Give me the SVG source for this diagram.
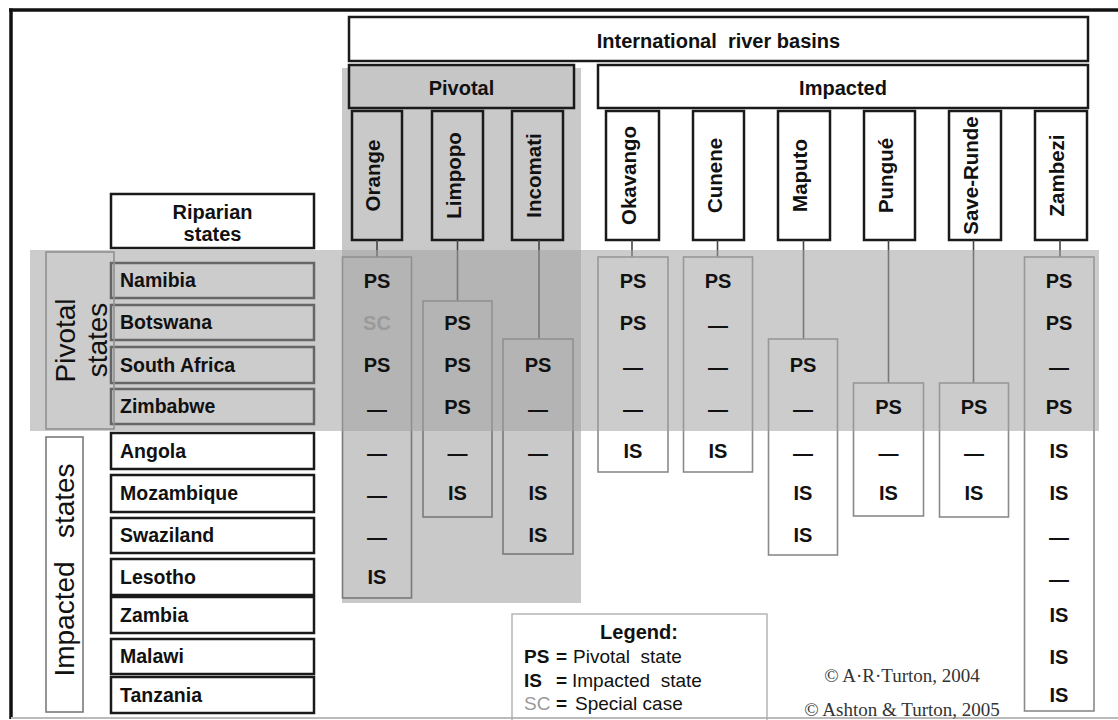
<svg xmlns="http://www.w3.org/2000/svg" width="1118" height="720" viewBox="0 0 1118 720">
  <style>
    .hdr { fill: #ffffff; stroke: #1a1a1a; stroke-width: 2.5; }
    .hdrg { fill: #c6c6c6; stroke: #1a1a1a; stroke-width: 2.5; }
    .riv { fill: #ffffff; stroke: #1a1a1a; stroke-width: 2.5; }
    .rivg { fill: #c9c9c9; stroke: #1a1a1a; stroke-width: 2.5; }
    .cty { fill: #ffffff; stroke: #1a1a1a; stroke-width: 2.5; }
    .ctyp { fill: none; stroke: #1a1a1a; stroke-width: 2.5; }
    .cellp { fill: #c9c9c9; stroke: #7a7a7a; stroke-width: 1.6; }
    .celli { fill: #ffffff; stroke: #8a8a8a; stroke-width: 1.6; }
    .lbl { fill: none; stroke: #7a7a7a; stroke-width: 1.6; }
    .lbli { fill: #ffffff; stroke: #7a7a7a; stroke-width: 1.6; }
    .conn line { stroke: #444444; stroke-width: 1.6; }
    text { font-family: "Liberation Sans", Arial, sans-serif; fill: #111111; }
    .h { font-size: 20px; font-weight: bold; text-anchor: middle; }
    .rv { font-size: 20.5px; font-weight: bold; text-anchor: middle; }
    .cn { font-size: 19.5px; font-weight: bold; }
    .c { font-size: 20px; font-weight: bold; text-anchor: middle; }
    .sc { fill: #9a9a9a; }
    .big { font-size: 28px; text-anchor: middle; }
    .lg { font-size: 19px; }
    .cp { font-family: "Liberation Serif", "Times New Roman", serif; font-size: 19px; fill: #333333; text-anchor: middle; }
  </style>

  <!-- outer frame -->
  <g id="frame">
    <line x1="9" y1="10" x2="1118" y2="10" stroke="#111111" stroke-width="3.5"/>
    <line x1="11" y1="8.5" x2="11" y2="719" stroke="#111111" stroke-width="3.5"/>
    <line x1="11" y1="718" x2="1118" y2="718" stroke="#bbbbbb" stroke-width="2"/>
  </g>

  <!-- shaded column behind the pivotal basins -->
  <rect id="pivotal-column" x="342" y="68" width="239" height="535" fill="#c9c9c9"/>

  <!-- header boxes -->
  <g id="international">
    <rect class="hdr" x="349" y="17" width="739" height="44"/>
  </g>
  <g id="pivotal">
    <rect class="hdrg" x="349" y="65" width="225" height="43"/>
  </g>
  <g id="impacted">
    <rect class="hdr" x="598" y="65" width="490" height="43"/>
  </g>
  <g id="riparian">
    <rect class="hdr" x="111" y="194" width="203" height="54"/>
  </g>

  <!-- basin boxes -->
  <g id="river-orange"><rect class="rivg" x="352" y="111" width="50" height="129"/></g>
  <g id="river-limpopo"><rect class="rivg" x="432" y="111" width="51" height="129"/></g>
  <g id="river-incomati"><rect class="rivg" x="512" y="111" width="51" height="129"/></g>
  <g id="river-okavango"><rect class="riv" x="606" y="111" width="53" height="129"/></g>
  <g id="river-cunene"><rect class="riv" x="693" y="111" width="51" height="129"/></g>
  <g id="river-maputo"><rect class="riv" x="778" y="111" width="52" height="129"/></g>
  <g id="river-pungue"><rect class="riv" x="864" y="111" width="51" height="129"/></g>
  <g id="river-saverunde"><rect class="riv" x="949" y="111" width="52" height="129"/></g>
  <g id="river-zambezi"><rect class="riv" x="1035" y="111" width="52" height="129"/></g>

  <!-- connectors from basins to their state columns -->
  <g id="connectors" class="conn">
    <line x1="377" y1="240" x2="377" y2="257"/>
    <line x1="457.5" y1="240" x2="457.5" y2="301"/>
    <line x1="539" y1="240" x2="539" y2="339"/>
    <line x1="632" y1="240" x2="632" y2="257"/>
    <line x1="717.5" y1="240" x2="717.5" y2="257"/>
    <line x1="803.5" y1="240" x2="803.5" y2="339"/>
    <line x1="888.5" y1="240" x2="888.5" y2="383"/>
    <line x1="973.5" y1="240" x2="973.5" y2="383"/>
    <line x1="1060" y1="240" x2="1060" y2="257"/>
  </g>

  <!-- state columns per basin -->
  <g id="col-orange"><rect class="cellp" x="342.5" y="257" width="69" height="341"/></g>
  <g id="col-limpopo"><rect class="cellp" x="423" y="301" width="69" height="216"/></g>
  <g id="col-incomati"><rect class="cellp" x="503" y="339" width="70" height="215"/></g>
  <g id="col-okavango"><rect class="celli" x="598" y="257" width="70" height="215"/></g>
  <g id="col-cunene"><rect class="celli" x="683.5" y="257" width="69" height="215"/></g>
  <g id="col-maputo"><rect class="celli" x="768.5" y="339" width="69" height="216"/></g>
  <g id="col-pungue"><rect class="celli" x="853.5" y="383" width="70" height="133"/></g>
  <g id="col-saverunde"><rect class="celli" x="939.5" y="383" width="69" height="134"/></g>
  <g id="col-zambezi"><rect class="celli" x="1024.5" y="257" width="69.5" height="454"/></g>

  <!-- riparian state boxes -->
  <g id="state-namibia"><rect class="ctyp" x="111" y="263" width="203" height="35"/></g>
  <g id="state-botswana"><rect class="ctyp" x="111" y="305" width="203" height="35"/></g>
  <g id="state-southafrica"><rect class="ctyp" x="111" y="347" width="203" height="36"/></g>
  <g id="state-zimbabwe"><rect class="ctyp" x="111" y="389" width="203" height="35"/></g>
  <g id="state-angola"><rect class="cty" x="111" y="433" width="203" height="36"/></g>
  <g id="state-mozambique"><rect class="cty" x="111" y="475" width="203" height="37"/></g>
  <g id="state-swaziland"><rect class="cty" x="111" y="518" width="203" height="35"/></g>
  <g id="state-lesotho"><rect class="cty" x="111" y="559" width="203" height="36"/></g>
  <g id="state-zambia"><rect class="cty" x="111" y="597" width="203" height="36"/></g>
  <g id="state-malawi"><rect class="cty" x="111" y="639" width="203" height="35"/></g>
  <g id="state-tanzania"><rect class="cty" x="111" y="677" width="203" height="36"/></g>

  <!-- group labels on the left -->
  <g id="pivotal-states"><rect class="lbl" x="46" y="252" width="68" height="177"/></g>
  <g id="impacted-states"><rect class="lbli" x="46" y="437" width="37" height="275"/></g>

  <!-- translucent band across the pivotal-state rows -->
  <rect id="pivotal-band" x="30" y="250" width="1069" height="181" fill="#a3a3a3" fill-opacity="0.556"/>

  <!-- legend -->
  <g id="legend">
    <rect x="512" y="614" width="255" height="110" fill="none" stroke="#aaaaaa" stroke-width="1.3"/>
    <text class="h" x="639" y="639" font-size="19">Legend:</text>
    <text class="lg" x="524" y="663"><tspan font-weight="bold">PS</tspan></text>
    <text class="lg" x="556" y="663" font-weight="bold">=</text>
    <text class="lg" x="573" y="663" xml:space="preserve">Pivotal  state</text>
    <text class="lg" x="524" y="687"><tspan font-weight="bold">IS</tspan></text>
    <text class="lg" x="556" y="687" font-weight="bold">=</text>
    <text class="lg" x="572" y="687" xml:space="preserve">Impacted  state</text>
    <text class="lg sc" x="524" y="710">SC</text>
    <text class="lg" x="556" y="710" font-weight="bold">=</text>
    <text class="lg" x="575" y="710">Special case</text>
  </g>

  <!-- copyright notes -->
  <g id="credits">
    <text class="cp" x="902" y="682">© A·R·Turton, 2004</text>
    <text class="cp" x="902" y="716">© Ashton &amp; Turton, 2005</text>
  </g>

  <!-- header and basin labels -->
  <g id="header-labels">
    <text class="h" x="718.5" y="48" xml:space="preserve">International  river basins</text>
    <text class="h" x="461.5" y="95">Pivotal</text>
    <text class="h" x="843" y="95">Impacted</text>
    <text class="h" x="212.5" y="219">Riparian</text>
    <text class="h" x="212.5" y="241">states</text>
  </g>
  <g id="river-labels">
    <text class="rv" transform="translate(380,175.5) rotate(-90)">Orange</text>
    <text class="rv" transform="translate(461,175.5) rotate(-90)">Limpopo</text>
    <text class="rv" transform="translate(541,175.5) rotate(-90)">Incomati</text>
    <text class="rv" transform="translate(636,175.5) rotate(-90)">Okavango</text>
    <text class="rv" transform="translate(722,175.5) rotate(-90)">Cunene</text>
    <text class="rv" transform="translate(807,175.5) rotate(-90)">Maputo</text>
    <text class="rv" transform="translate(893,175.5) rotate(-90)">Pungué</text>
    <text class="rv" transform="translate(978,175.5) rotate(-90)">Save-Runde</text>
    <text class="rv" transform="translate(1064,175.5) rotate(-90)">Zambezi</text>
  </g>

  <!-- group label texts -->
  <g id="group-labels">
    <text class="big" transform="translate(75,340.5) rotate(-90)">Pivotal</text>
    <text class="big" transform="translate(107,340) rotate(-90)">states</text>
    <text class="big" transform="translate(74,570) rotate(-90)" xml:space="preserve">Impacted   states</text>
  </g>

  <!-- state names -->
  <g id="state-labels">
    <text class="cn" x="120" y="287">Namibia</text>
    <text class="cn" x="120" y="329">Botswana</text>
    <text class="cn" x="120" y="371.5">South Africa</text>
    <text class="cn" x="120" y="413">Zimbabwe</text>
    <text class="cn" x="120" y="457.5">Angola</text>
    <text class="cn" x="120" y="500">Mozambique</text>
    <text class="cn" x="120" y="542">Swaziland</text>
    <text class="cn" x="120" y="583.5">Lesotho</text>
    <text class="cn" x="120" y="621.5">Zambia</text>
    <text class="cn" x="120" y="663">Malawi</text>
    <text class="cn" x="120" y="701.5">Tanzania</text>
  </g>

  <!-- roles of each state per basin -->
  <g id="cells-orange">
    <text class="c" x="377" y="288">PS</text>
    <text class="c sc" x="377" y="330">SC</text>
    <text class="c" x="377" y="372">PS</text>
    <text class="c" x="377" y="416">—</text>
    <text class="c" x="377" y="460">—</text>
    <text class="c" x="377" y="502">—</text>
    <text class="c" x="377" y="544">—</text>
    <text class="c" x="377" y="584">IS</text>
  </g>
  <g id="cells-limpopo">
    <text class="c" x="457.5" y="330">PS</text>
    <text class="c" x="457.5" y="372">PS</text>
    <text class="c" x="457.5" y="414">PS</text>
    <text class="c" x="457.5" y="460">—</text>
    <text class="c" x="457.5" y="500">IS</text>
  </g>
  <g id="cells-incomati">
    <text class="c" x="538" y="372">PS</text>
    <text class="c" x="538" y="416">—</text>
    <text class="c" x="538" y="460">—</text>
    <text class="c" x="538" y="500">IS</text>
    <text class="c" x="538" y="542">IS</text>
  </g>
  <g id="cells-okavango">
    <text class="c" x="633" y="288">PS</text>
    <text class="c" x="633" y="330">PS</text>
    <text class="c" x="633" y="374">—</text>
    <text class="c" x="633" y="416">—</text>
    <text class="c" x="633" y="458">IS</text>
  </g>
  <g id="cells-cunene">
    <text class="c" x="718" y="288">PS</text>
    <text class="c" x="718" y="332">—</text>
    <text class="c" x="718" y="374">—</text>
    <text class="c" x="718" y="416">—</text>
    <text class="c" x="718" y="458">IS</text>
  </g>
  <g id="cells-maputo">
    <text class="c" x="803" y="372">PS</text>
    <text class="c" x="803" y="416">—</text>
    <text class="c" x="803" y="460">—</text>
    <text class="c" x="803" y="500">IS</text>
    <text class="c" x="803" y="542">IS</text>
  </g>
  <g id="cells-pungue">
    <text class="c" x="888.5" y="414">PS</text>
    <text class="c" x="888.5" y="460">—</text>
    <text class="c" x="888.5" y="500">IS</text>
  </g>
  <g id="cells-saverunde">
    <text class="c" x="974" y="414">PS</text>
    <text class="c" x="974" y="460">—</text>
    <text class="c" x="974" y="500">IS</text>
  </g>
  <g id="cells-zambezi">
    <text class="c" x="1059" y="288">PS</text>
    <text class="c" x="1059" y="330">PS</text>
    <text class="c" x="1059" y="374">—</text>
    <text class="c" x="1059" y="414">PS</text>
    <text class="c" x="1059" y="458">IS</text>
    <text class="c" x="1059" y="500">IS</text>
    <text class="c" x="1059" y="544">—</text>
    <text class="c" x="1059" y="586">—</text>
    <text class="c" x="1059" y="622">IS</text>
    <text class="c" x="1059" y="664">IS</text>
    <text class="c" x="1059" y="702">IS</text>
  </g>
</svg>
